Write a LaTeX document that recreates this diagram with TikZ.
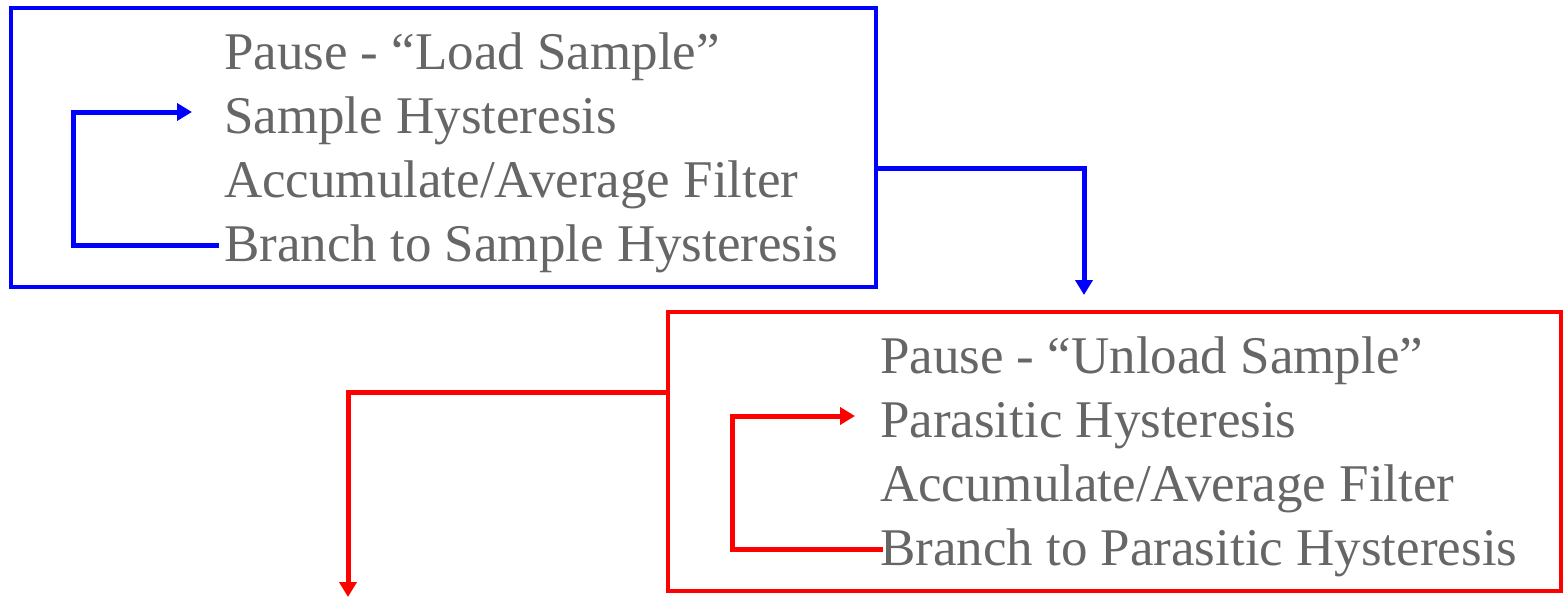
\documentclass[tikz,border=0pt]{standalone}
\usepackage{fontspec}
\setmainfont{Liberation Serif}
\usetikzlibrary{arrows.meta,calc}
\definecolor{txtgray}{HTML}{666666}
\definecolor{pblue}{RGB}{0,0,255}
\definecolor{pred}{RGB}{255,0,0}
\begin{document}
\begin{tikzpicture}[x=1pt,y=-1pt,
  boxstyle/.style={draw, line width=3.8pt, inner sep=0pt, outer sep=0pt, anchor=north west},
  linetext/.style={anchor=base west, inner sep=0pt, outer sep=0pt, text=txtgray, font=\fontsize{53}{64}\selectfont},
  conn/.style={line width=5pt, line join=miter, -{Triangle[length=15pt,width=17pt]}}
]
\useasboundingbox (0,0) rectangle (1563,597);
% blue box
\node[boxstyle, draw=pblue, minimum width=865pt, minimum height=279pt] (bbox) at (11,8) {};
\node[linetext] (b1) at (224,69) {Pause - “Load Sample”};
\node[linetext] (b2) at (224,133) {Sample Hysteresis};
\node[linetext] (b3) at (224,197) {Accumulate/Average Filter};
\node[linetext] (b4) at (224,261) {Branch to Sample Hysteresis};
% red box
\node[boxstyle, draw=pred, minimum width=893pt, minimum height=279pt] (rbox) at (668,312) {};
\node[linetext] (r1) at (880,373) {Pause - “Unload Sample”};
\node[linetext] (r2) at (880,437) {Parasitic Hysteresis};
\node[linetext] (r3) at (880,501) {Accumulate/Average Filter};
\node[linetext] (r4) at (880,565) {Branch to Parasitic Hysteresis};
% coordinates
\coordinate (bstart) at ($(bbox.north east)+(0,160)$);
\coordinate (bend) at (1084,295);
\coordinate (rstart) at ($(rbox.north west)+(0,80)$);
\coordinate (rend) at (348,597);
\coordinate (bl1) at ($(b4.base west)+(-5,-16)$);
\coordinate (bl2) at (73,245);
\coordinate (bl3) at ($(b2.base west)+(-32,-21)$);
\coordinate (rl1) at ($(r4.base west)+(3,-16)$);
\coordinate (rl2) at (732,549);
\coordinate (rl3) at ($(r2.base west)+(-25,-21)$);
% connectors
\draw[conn, pblue] (bstart) -| (bend);
\draw[conn, pred] (rstart) -| (rend);
\draw[conn, pblue] (bl1) -- (bl2) |- (bl3);
\draw[conn, pred] (rl1) -- (rl2) |- (rl3);
\end{tikzpicture}
\end{document}
